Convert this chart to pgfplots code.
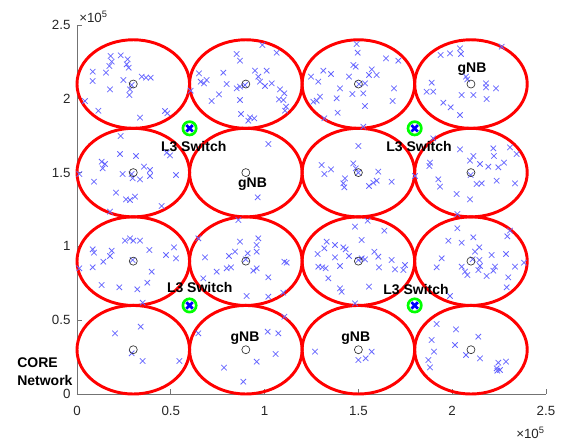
\documentclass[border=0pt]{standalone}
\usepackage{pgfplots}
\pgfplotsset{compat=1.18}
\usepackage{fontspec}
\setmainfont{Liberation Sans}
\definecolor{ptblue}{rgb}{0.4,0.4,1}
\definecolor{axgray}{rgb}{0.45,0.45,0.45}
\definecolor{txtgray}{rgb}{0.15,0.15,0.15}
\tikzset{lbl/.style={font=\bfseries\fontsize{10.5}{13.5}\selectfont, text=black, inner sep=0pt}}
\begin{document}
\begin{tikzpicture}
\begin{axis}[
  scale only axis, width=351.75pt, height=276.75pt,
  xmin=0, xmax=250000, ymin=0, ymax=250000,
  clip=false,
  axis x line*=bottom, axis y line*=left,
  axis line style={-, draw=axgray, line width=0.5pt},
  scaled ticks=false,
  xtick={0,50000,100000,150000,200000,250000},
  xticklabels={0,0.5,1,1.5,2,2.5},
  ytick={0,50000,100000,150000,200000,250000},
  yticklabels={0,0.5,1,1.5,2,2.5},
  tick align=inside, major tick length=3.75pt,
  tick style={draw=axgray, line width=0.5pt},
  ticklabel style={font=\fontsize{10}{12}\selectfont, text=txtgray},
  xticklabel style={yshift=-5.5pt},
  yticklabel style={xshift=-1.4pt},
]
\coordinate (O) at (rel axis cs:0,0);
% cell boundaries
\draw[red, line width=2.2pt] (axis cs:30000,30000) ellipse [x radius=30000, y radius=30000];
\draw[red, line width=2.2pt] (axis cs:90000,30000) ellipse [x radius=30000, y radius=30000];
\draw[red, line width=2.2pt] (axis cs:150000,30000) ellipse [x radius=30000, y radius=30000];
\draw[red, line width=2.2pt] (axis cs:210000,30000) ellipse [x radius=30000, y radius=30000];
\draw[red, line width=2.2pt] (axis cs:30000,90000) ellipse [x radius=30000, y radius=30000];
\draw[red, line width=2.2pt] (axis cs:90000,90000) ellipse [x radius=30000, y radius=30000];
\draw[red, line width=2.2pt] (axis cs:150000,90000) ellipse [x radius=30000, y radius=30000];
\draw[red, line width=2.2pt] (axis cs:210000,90000) ellipse [x radius=30000, y radius=30000];
\draw[red, line width=2.2pt] (axis cs:30000,150000) ellipse [x radius=30000, y radius=30000];
\draw[red, line width=2.2pt] (axis cs:90000,150000) ellipse [x radius=30000, y radius=30000];
\draw[red, line width=2.2pt] (axis cs:150000,150000) ellipse [x radius=30000, y radius=30000];
\draw[red, line width=2.2pt] (axis cs:210000,150000) ellipse [x radius=30000, y radius=30000];
\draw[red, line width=2.2pt] (axis cs:30000,210000) ellipse [x radius=30000, y radius=30000];
\draw[red, line width=2.2pt] (axis cs:90000,210000) ellipse [x radius=30000, y radius=30000];
\draw[red, line width=2.2pt] (axis cs:150000,210000) ellipse [x radius=30000, y radius=30000];
\draw[red, line width=2.2pt] (axis cs:210000,210000) ellipse [x radius=30000, y radius=30000];
% users
\addplot[only marks, mark=x, mark size=2.9pt, ptblue, mark options={line width=0.55pt}] table {
x y
17960 229000
23290 229450
27000 226750
18500 225150
17220 222220
26490 223370
27560 221070
15460 217700
8370 218380
8370 212050
24700 212730
29150 209340
28250 206410
27880 202570
34490 214990
36780 214310
39280 214310
17590 206410
4260 198500
11370 191930
33580 187190
46910 191740
48150 190170
60600 205500
65030 217260
65920 211600
69120 212730
67700 210420
77990 217700
79790 210000
75690 203050
71790 198500
98790 236450
106430 231240
85120 230350
86880 225810
94880 219030
101120 219030
96650 214990
97550 211600
100220 208670
103780 210480
89550 209340
85120 207090
86880 208200
86880 199190
108210 206410
110520 203700
107680 199640
109970 199190
111420 194640
110880 191930
87420 189700
92220 187450
94510 186770
91310 185150
149090 237130
149620 231240
147290 222900
148570 221740
131290 219030
135390 216800
124730 214990
128620 211600
144990 214990
150320 210000
157090 219930
155650 216120
159760 216120
153510 210480
140190 207090
146750 203250
152610 203700
138420 200320
129520 201420
127760 198730
125980 198050
153510 195120
138960 190580
131830 186770
152610 181090
164710 227440
171270 225810
168980 207090
168270 198500
193870 229670
198830 230810
204160 234210
204690 230350
226380 235300
207360 214990
208040 213190
189080 210900
186360 204810
189900 204810
205060 202570
211250 202570
218020 210480
218020 207770
223350 207090
218390 199860
195250 197360
199190 194240
204160 189020
23290 174800
22920 162600
31450 161250
47800 163500
49570 161700
14930 155830
13700 152910
13170 157380
1230 149050
9060 143820
24360 149050
29150 149050
29680 146140
33580 145460
35710 154000
38910 151760
38910 147700
52770 148370
20790 136380
26120 131910
28250 131440
30920 133670
45150 127370
17590 123510
25590 103860
28250 105490
30010 103860
33580 103860
8370 98030
9060 95730
18500 97090
17590 93500
14020 89630
8370 85840
1230 85160
29680 90790
38540 97560
47440 94170
51700 99390
52770 91940
39820 82860
37470 75410
22550 72290
13170 73850
32140 70930
35020 61850
101970 169380
96320 133260
85980 117890
130440 155150
135390 152230
131830 149050
147290 156260
148570 152910
149950 149950
142850 146140
141960 142750
142490 140040
160600 150630
159760 144510
157970 143150
155650 140920
167740 143820
149950 168020
96650 105490
86880 103180
95790 100950
90990 95320
95790 96410
84220 96410
81020 93500
89930 91260
82090 85840
95790 85160
93980 83540
110520 89630
111780 88950
101970 79060
64660 105490
68230 92610
74470 82860
79790 85160
67320 78380
90450 66400
101970 65920
109970 68630
148190 113350
154950 117410
163810 110630
151760 104330
133110 103180
137530 100950
131830 98710
128270 94850
141960 99390
143220 98030
137530 92610
144990 93500
149950 90790
151760 91940
153510 91260
128620 86250
130770 85840
132540 85160
140190 86720
133960 78380
140190 71610
155650 72700
160600 93020
160980 85840
158500 96410
167740 90790
169500 84480
174840 87400
173930 84010
141070 69310
148190 61450
187800 154470
180170 147700
192590 145460
193500 140450
202400 135500
209490 131910
209850 148370
213050 142280
215720 142750
214820 155830
219250 154000
224580 153590
227610 156710
223710 144510
233480 142750
202750 121950
189900 173240
204160 165780
211250 161250
209490 158060
221910 166460
222270 161250
230820 167140
234380 162600
188170 156710
202750 112240
197950 103860
205060 102500
211250 106160
214450 99390
212160 96410
221050 94170
194410 91940
191740 85840
205060 86250
206820 82860
208040 80620
214820 86720
213940 84010
218390 79950
222820 86250
221910 83540
233480 86250
238280 88950
229900 79060
229050 72290
229370 106840
230820 110630
228680 94850
214450 90790
210890 91260
198830 66400
20260 41120
33960 45600
29150 27570
35020 22360
54530 22360
64660 41120
78360 17820
110520 52370
101650 42210
107300 41120
105920 27100
95790 21880
88650 8330
126870 28660
149950 23040
153890 24190
157090 28660
191740 47430
202030 43830
189080 36590
190300 28660
187260 23040
188170 18090
201500 33200
213920 38820
207360 26420
214820 24190
224580 21210
228680 21880
223710 17410
225480 16260
224050 15790
};
% gNB
\addplot[only marks, mark=o, mark size=3pt, draw=black!80, mark options={line width=0.5pt}] table {
x y
30000 30000
90000 30000
150000 30000
210000 30000
30000 90000
90000 90000
150000 90000
210000 90000
30000 150000
90000 150000
150000 150000
210000 150000
30000 210000
90000 210000
150000 210000
210000 210000
};
% L3 switches
\addplot[only marks, mark=o, mark size=5pt, draw={rgb,1:red,0;green,1;blue,0}, mark options={line width=2pt}] table {
x y
60000 60000
180000 60000
60000 180000
180000 180000
};
\addplot[only marks, mark=x, mark size=3.4pt, blue, mark options={line width=2pt}] table {
x y
60000 60000
180000 60000
60000 180000
180000 180000
};
% labels
\node[lbl] at (axis cs:210550,220050) {gNB};
\node[lbl] at (axis cs:93550,142280) {gNB};
\node[lbl] at (axis cs:89550,37940) {gNB};
\node[lbl] at (axis cs:148620,37940) {gNB};
\node[lbl] at (axis cs:62200,167800) {L3 Switch};
\node[lbl] at (axis cs:182300,167800) {L3 Switch};
\node[lbl] at (axis cs:65400,72150) {L3 Switch};
\node[lbl] at (axis cs:180700,70460) {L3 Switch};
\node[lbl, anchor=west, align=left] at (axis cs:-31980,15100) {CORE\\Network};
\node[anchor=base west, inner sep=0pt, font=\fontsize{10}{12}\selectfont, text=txtgray]
  at ([xshift=1.5pt, yshift=1.75pt]rel axis cs:0,1) {×10\textsuperscript{5}};
\node[anchor=base east, inner sep=0pt, font=\fontsize{10}{12}\selectfont, text=txtgray]
  at ([xshift=-0.75pt, yshift=-33.2pt]rel axis cs:1,0) {×10\textsuperscript{5}};
\end{axis}
\pgfresetboundingbox
\path (O) ++(-57.75pt,-37.5pt) rectangle ++(421.5pt,333pt);
\end{tikzpicture}
\end{document}
